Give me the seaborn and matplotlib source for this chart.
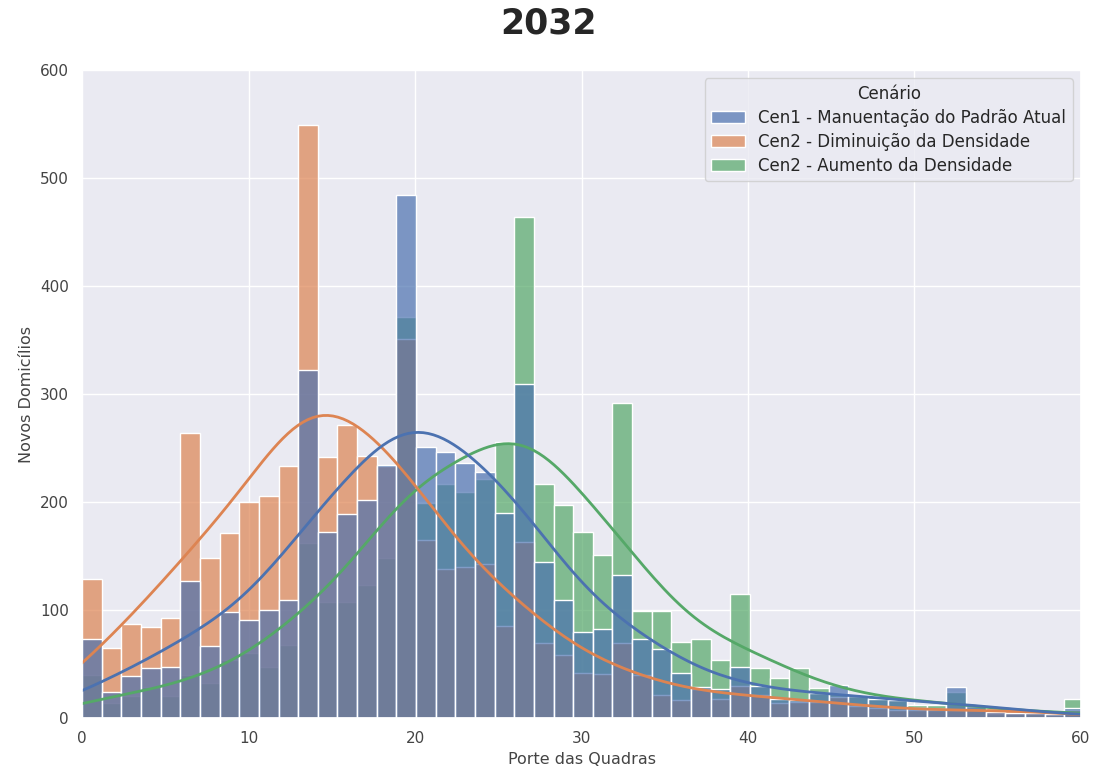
import numpy as np
import pandas as pd
import matplotlib
matplotlib.use("Agg")
import matplotlib.pyplot as plt
import seaborn as sns

# largura das classes
largura = 1.18

cenarios = [
    "Cen1 - Manuentação do Padrão Atual",
    "Cen2 - Diminuição da Densidade",
    "Cen2 - Aumento da Densidade",
]

# novos domicilios por classe de porte (51 classes de 0 a ~60)
cen1_padrao = [73, 24, 39, 46, 47, 127, 67, 98, 91, 100,
               109, 322, 172, 189, 202, 234, 484, 251, 246, 236,
               228, 190, 309, 144, 109, 80, 82, 132, 73, 64,
               42, 29, 27, 47, 30, 18, 17, 23, 31, 20,
               18, 17, 9, 8, 29, 12, 6, 5, 5, 4, 9]
cen2_diminuicao = [129, 65, 87, 84, 93, 264, 148, 171, 200, 206,
                   233, 549, 242, 271, 243, 233, 351, 165, 138, 140,
                   143, 85, 163, 69, 58, 42, 41, 69, 40, 21,
                   17, 27, 18, 30, 21, 14, 15, 15, 19, 11,
                   9, 7, 7, 7, 7, 7, 9, 7, 6, 4, 7]
cen2_aumento = [40, 14, 20, 29, 20, 40, 32, 54, 60, 47,
                68, 162, 107, 107, 123, 148, 371, 199, 217, 209,
                221, 256, 464, 217, 197, 172, 151, 292, 99, 99,
                70, 73, 54, 115, 46, 37, 46, 28, 23, 21,
                20, 17, 12, 12, 24, 10, 4, 4, 4, 3, 18]

n_classes = len(cen1_padrao)
centros = (np.arange(n_classes) + 0.5) * largura

df = pd.concat([
    pd.DataFrame({"Porte": centros, "Novos": vals, "Cenário": nome})
    for nome, vals in zip(cenarios, [cen1_padrao, cen2_diminuicao, cen2_aumento])
], ignore_index=True)

sns.set_theme(style="darkgrid")
plt.rcParams["font.family"] = ["DejaVu Sans"]

fig = plt.figure(figsize=(10.97, 7.78), dpi=100)
ax = fig.add_axes([0.0748, 0.0771, 0.9106, 0.8329])

sns.histplot(data=df, x="Porte", weights="Novos", hue="Cenário", hue_order=cenarios,
             binwidth=largura, binrange=(0, n_classes * largura), alpha=0.7,
             kde=True, kde_kws={"bw_adjust": 0.58, "cut": 3, "clip": (0, 60)},
             line_kws={"linewidth": 2}, ax=ax)

ax.set_xlim(0, 60)
ax.set_ylim(0, 600)
ax.set_xlabel("Porte das Quadras", fontsize=11.5, color="#444444")
ax.set_ylabel("Novos Domicílios", fontsize=11.5, color="#444444")
ax.tick_params(labelsize=11, labelcolor="#444444")

sns.move_legend(ax, "upper right", title="Cenário", fontsize=12, title_fontsize=12,
                labelspacing=0.35)

fig.suptitle("2032", y=0.992, fontsize=25, fontweight="bold")

fig.savefig("out.png", dpi=100)
